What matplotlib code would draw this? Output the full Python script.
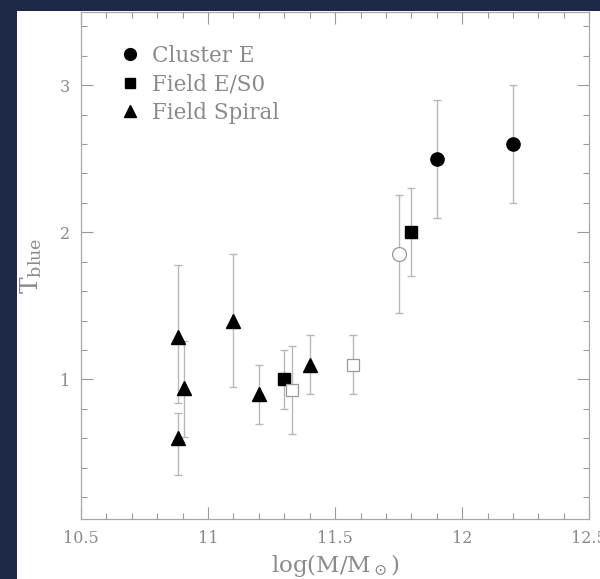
import numpy as np
import matplotlib
matplotlib.use("Agg")
import matplotlib.pyplot as plt
from matplotlib.lines import Line2D
from matplotlib.patches import Rectangle

plt.rcParams['font.family'] = ['DejaVu Serif']
plt.rcParams['mathtext.fontset'] = 'dejavuserif'

# cluster ellipticals
clus_x = [11.90, 12.20]
clus_y = [2.50, 2.60]
clus_err = [0.40, 0.40]

# field E/S0
es0_x = [11.30, 11.80]
es0_y = [1.00, 2.00]
es0_err = [0.20, 0.30]

# field spirals (asymmetric errors)
sp_x = [10.88, 10.88, 10.907, 11.10, 11.20, 11.40]
sp_y = [1.29, 0.60, 0.94, 1.40, 0.90, 1.10]
sp_lo = [0.45, 0.25, 0.33, 0.45, 0.20, 0.20]
sp_hi = [0.49, 0.17, 0.32, 0.45, 0.20, 0.20]

# open symbols (not in legend)
osq_x = [11.33, 11.57]
osq_y = [0.93, 1.10]
osq_err = [0.30, 0.20]
ocirc_x = [11.75]
ocirc_y = [1.85]
ocirc_err = [0.40]

xticks = [10.5, 11, 11.5, 12, 12.5]
xticklabels = ['10.5', '11', '11.5', '12', '12.5']
yticks = [1, 2, 3]

gray = '#8a8a8a'
ecol = '#b8b8b8'

fig = plt.figure(figsize=(6, 5.79), dpi=100)
fig.patch.set_facecolor('#1d2946')
fig.patches.append(Rectangle((17/600, 0), 1, 1 - 11/579, transform=fig.transFigure,
                             facecolor='white', edgecolor='none', zorder=-10))

ax = fig.add_axes([81/600, 1 - 519.3/579, 508.3/600, (519.3 - 11.5)/579])
ax.set_facecolor('white')

eb = dict(fmt='none', ecolor=ecol, elinewidth=1.0, capsize=3.2, capthick=1.0, zorder=2)
ax.errorbar(sp_x, sp_y, yerr=[sp_lo, sp_hi], **eb)
ax.errorbar(clus_x, clus_y, yerr=clus_err, **eb)
ax.errorbar(es0_x, es0_y, yerr=es0_err, **eb)
ax.errorbar(osq_x, osq_y, yerr=osq_err, **eb)
ax.errorbar(ocirc_x, ocirc_y, yerr=ocirc_err, **eb)

ax.plot(clus_x, clus_y, 'o', color='black', ms=9.5, zorder=3)
ax.plot(es0_x, es0_y, 's', color='black', ms=8, zorder=3)
ax.plot(sp_x, sp_y, '^', color='black', ms=10, zorder=3)
ax.plot(osq_x, osq_y, 's', mfc='white', mec='#999999', mew=0.9, ms=8.4, zorder=3)
ax.plot(ocirc_x, ocirc_y, 'o', mfc='white', mec='#999999', mew=0.9, ms=10, zorder=3)

ax.set_xlim(10.5, 12.5)
ax.set_ylim(0.05, 3.5)
ax.set_xticks(xticks)
ax.set_xticklabels(xticklabels)
ax.set_yticks(yticks)
ax.set_xticks(np.arange(10.6, 12.5, 0.1), minor=True)
ax.set_yticks(np.arange(0.2, 3.5, 0.2), minor=True)
ax.tick_params(which='both', direction='in', top=True, right=True, color='#9a9a9a',
               width=0.8, labelcolor=gray, labelsize=11.5)
ax.tick_params(which='major', length=8.6)
ax.tick_params(which='minor', length=4.5)
ax.tick_params(axis='y', pad=8)
ax.tick_params(axis='x', pad=8)
for s in ax.spines.values():
    s.set_color('#a8a8a8')
    s.set_linewidth(0.9)

ax.set_xlabel(r'log(M/M$_\odot$)', fontsize=16.5, color=gray, labelpad=3.5)
fig.text(31/600, 1 - 266/579, r'$\mathrm{T}_{\rm blue}$', rotation=90, ha='center',
         va='center', fontsize=18, color=gray)

handles = [Line2D([], [], ls='none', marker='o', color='black', ms=8.5),
           Line2D([], [], ls='none', marker='s', color='black', ms=6.5),
           Line2D([], [], ls='none', marker='^', color='black', ms=8.5)]
ax.legend(handles, ['Cluster E', 'Field E/S0', 'Field Spiral'], loc='upper left',
          bbox_to_anchor=(0.0753, 0.934), frameon=False, fontsize=15.5, labelcolor=gray,
          handlelength=1.0, handletextpad=0.52, labelspacing=0.3, borderpad=0,
          borderaxespad=0)

fig.savefig('out.png', dpi=100, facecolor=fig.get_facecolor())
